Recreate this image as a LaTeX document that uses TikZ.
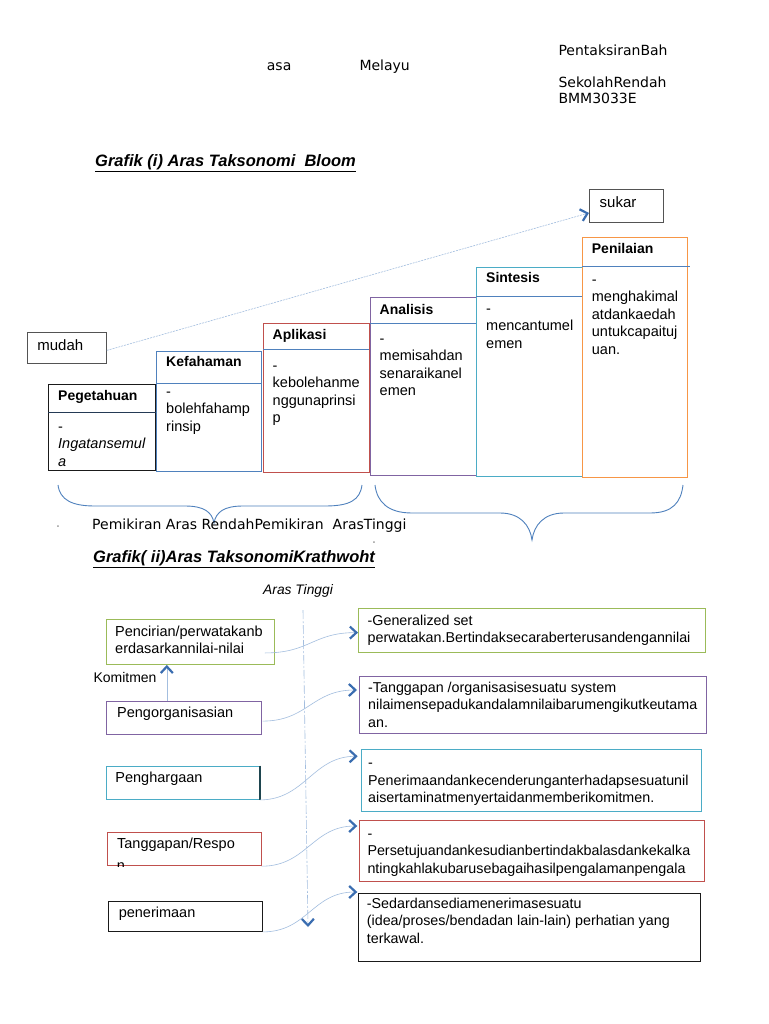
\documentclass[tikz,border=0pt]{standalone}
\usepackage{fontspec}
\setmainfont{Liberation Sans}
\newfontfamily\dvs{DejaVu Sans}
\usetikzlibrary{arrows.meta}
\definecolor{cblue}{HTML}{4F81BD}
\definecolor{cred}{HTML}{C0504D}
\definecolor{cpurple}{HTML}{8064A2}
\definecolor{cteal}{HTML}{4BACC6}
\definecolor{corange}{HTML}{F79646}
\definecolor{colive}{HTML}{9BBB59}
\definecolor{clight}{HTML}{A3BEDF}
\definecolor{ctip}{HTML}{3A6DB0}
\definecolor{cdark}{HTML}{1A1A1A}
\newcommand\fntBody{\fontsize{14.5}{17.5}\selectfont}
\newcommand\fntRight{\fontsize{14.3}{17.5}\selectfont}
\newcommand\fntHead{\dvs\fontsize{14}{17}\selectfont}
\begin{document}
\begin{tikzpicture}[x=1pt,y=-1pt,
  every node/.style={inner sep=0pt},
  bx/.style={draw, line width=0.9pt, anchor=north west, inner sep=0pt},
  divline/.style={draw=cblue, line width=0.9pt},
  ttl/.style={anchor=base west, font=\fontsize{14}{17}\selectfont\bfseries},
  bodytxt/.style={anchor=north west, align=left, font=\fntBody},
  righttxt/.style={anchor=north west, align=left, font=\fntRight},
  headtxt/.style={anchor=base west, font=\fntHead},
  gtitle/.style={anchor=base west, font=\fontsize{16.5}{20}\selectfont\bfseries\itshape},
  conn/.style={draw=clight, line width=0.6pt, -{Straight Barb[length=6.5pt,width=12pt,line width=2.2pt,color=ctip]}},
  brace/.style={draw=cblue, line width=0.9pt},
]
\fill[white] (0,0) rectangle (768,1024);
\useasboundingbox (0,0) rectangle (768,1024);

% header
\node[headtxt] (h1) at (266.7,70.7) {asa};
\node[headtxt] (h2) at (359.3,70.7) {Melayu};
\node[headtxt] (h3) at (558.3,56) {PentaksiranBah};
\node[headtxt] (h4) at (558.3,87.5) {SekolahRendah};
\node[headtxt] (h5) at (558.3,104) {BMM3033E};

% title 1
\node[gtitle] (t1) at (95,166.7) {\underline{Grafik (i) Aras Taksonomi\ \ Bloom}};

% sukar / mudah
\node[bx, draw=cdark!75, line width=0.8pt, inner xsep=10.3pt, text width=53.4pt, text height=17.7pt, text depth=15.3pt, align=left, font=\fontsize{15}{18}\selectfont] (sukar) at (589,189) {sukar};
\node[bx, draw=cdark!75, line width=0.8pt, inner xsep=10pt, text width=59pt, text height=18pt, text depth=13pt, align=left, font=\fontsize{15}{18}\selectfont] (mudah) at (27,332) {mudah};
\draw[conn, dash pattern=on 2pt off 1pt] ([yshift=-2.5pt]mudah.east) -- ([yshift=-7pt]sukar.west);

% Bloom boxes
\node[bx, draw=cdark, minimum width=107pt, minimum height=86pt] (peg) at (48,384) {};
\draw[draw=cblue!45!black, line width=0.9pt] ([yshift=-28pt]peg.north west) -- ([yshift=-28pt]peg.north east);
\node[ttl] (pegT) at (58,400.7) {Pegetahuan};
\node[bodytxt] (pegB) at (58,418.75) {\strut-\\\textit{Ingatansemul}\\\textit{a}};

\node[bx, draw=cblue, minimum width=105pt, minimum height=120.5pt] (kef) at (156,350.7) {};
\draw[divline] ([yshift=-32.6pt]kef.north west) -- ([yshift=-32.6pt]kef.north east);
\node[ttl] (kefT) at (166,366.7) {Kefahaman};
\node[bodytxt] (kefB) at (166,383.75) {\strut-\\bolehfahamp\\rinsip};

\node[bx, draw=cred, minimum width=105.5pt, minimum height=149pt] (apl) at (263,323.3) {};
\draw[divline] ([yshift=-26pt]apl.north west) -- ([yshift=-26pt]apl.north east);
\node[ttl] (aplT) at (272.5,339.3) {Aplikasi};
\node[bodytxt] (aplB) at (272.5,357.75) {\strut-\\kebolehanme\\nggunaprinsi\\p};

\node[bx, draw=cpurple, minimum width=106pt, minimum height=177.7pt] (ana) at (370,297.3) {};
\draw[divline] ([yshift=-26pt]ana.north west) -- ([yshift=-26pt]ana.north east);
\node[ttl] (anaT) at (379.5,314) {Analisis};
\node[bodytxt] (anaB) at (379.5,330.75) {\strut-\\memisahdan\\senaraikanel\\emen};

\node[bx, draw=cteal, minimum width=105.5pt, minimum height=208.4pt] (sin) at (476,267.3) {};
\draw[divline] ([yshift=-29.4pt]sin.north west) -- ([yshift=-29.4pt]sin.north east);
\node[ttl] (sinT) at (486,282.7) {Sintesis};
\node[bodytxt] (sinB) at (486,300.75) {\strut-\\mencantumel\\emen};

\node[bx, draw=corange, minimum width=105pt, minimum height=239.4pt] (pen) at (582.3,237.3) {};
\draw[divline] ([yshift=-28.7pt]pen.north west) -- ([xshift=2pt,yshift=-28.7pt]pen.north east);
\node[ttl] (penT) at (591.7,253.3) {Penilaian};
\node[bodytxt] (penB) at (591.7,271.75) {\strut-\\menghakimal\\atdankaedah\\untukcapaituj\\uan.};

% braces
\draw[brace] (58,485) .. controls (60,500) and (72,506) .. (95,506) -- (185,506)
  .. controls (204,506) and (212,512) .. (214,523)
  .. controls (216,512) and (224,506) .. (243,506) -- (325,506)
  .. controls (350,506) and (360,500) .. (362,485);
\draw[brace] (375,485) .. controls (377,502) and (388,513) .. (412,513) -- (500,513)
  .. controls (520,513) and (530,525) .. (532,540)
  .. controls (534,525) and (544,513) .. (564,513) -- (650,513)
  .. controls (673,513) and (681,502) .. (683,485);
\node[anchor=base, font=\fntHead, text=black!40] (dot1) at (58,527) {.};
\node[anchor=base, font=\fntHead, text=black!40] (dot2) at (374,543) {.};
\node[headtxt] (pemik) at (92,529) {Pemikiran Aras RendahPemikiran\ \ ArasTinggi};

% title 2
\node[gtitle] (t2) at (93,562) {\underline{Grafik( ii)Aras TaksonomiKrathwoht}};
\node[anchor=base west, font=\fontsize{13.8}{17}\selectfont\itshape] (aras) at (263,594) {Aras Tinggi};

% Krathwohl left boxes
\node[bx, draw=colive, minimum width=168pt, minimum height=45pt] (pc) at (106,619) {};
\node[anchor=north west, align=left, font=\fontsize{14.5}{16.5}\selectfont] (pcT) at (115,624.95) {\strut Pencirian/perwatakanb\\erdasarkannilai-nilai};
\node[anchor=base west, font=\fontsize{14}{17}\selectfont] (komit) at (93.3,682.7) {Komitmen};
\node[bx, draw=cpurple, inner xsep=10.7pt, text width=133.3pt, text height=16pt, text depth=17.3pt, align=left, font=\fntBody] (po) at (106,700.7) {Pengorganisasian};
\node[bx, draw=cteal, inner xsep=9pt, text width=135pt, text height=16pt, text depth=17.3pt, align=left, font=\fntBody] (ph) at (106,765.7) {Penghargaan};
\draw[draw=cteal!40!black, line width=1.4pt] (ph.north east) -- (ph.south east);
\node[bx, draw=cred, inner xsep=9.4pt, text width=134.6pt, text height=16.3pt, text depth=17pt, align=left, font=\fntBody] (tr) at (107.3,832) {Tanggapan/Respo};
\begin{scope}
\clip (tr.north west) rectangle (tr.south east);
\node[anchor=base west, font=\fntBody] (trN) at (116.7,870) {n};
\end{scope}
\node[bx, draw=cdark, inner xsep=10pt, text width=133.4pt, text height=16pt, text depth=14.3pt, align=left, font=\fntBody] (pn) at (108.3,900.7) {penerimaan};

\draw[conn] ([xshift=-17pt]po.north) -- ([xshift=-17pt]po.north |- pc.south);

% vertical line
\coordinate (vt) at (303,610);
\coordinate (vb) at (308,927);
\draw[conn, dash pattern=on 9pt off 2pt on 2pt off 2pt] (vt) -- (vb);

% Krathwohl right boxes
\node[bx, draw=colive, minimum width=347pt, minimum height=43.7pt] (r1) at (358,608.3) {};
\node[righttxt] (r1T) at (367.5,612.6) {\strut-Generalized set\\perwatakan.Bertindaksecaraberterusandengannilai};
\node[bx, draw=cpurple, minimum width=347pt, minimum height=57.3pt] (r2) at (359,676) {};
\node[righttxt] (r2T) at (368,679.75) {\strut-Tanggapan /organisasisesuatu system\\nilaimensepadukandalamnilaibarumengikutkeutama\\an.};
\node[bx, draw=cteal, minimum width=340pt, minimum height=61.3pt] (r3) at (360.7,749.3) {};
\node[righttxt] (r3T) at (368,755.25) {\strut-\\Penerimaandankecenderunganterhadapsesuatunil\\aisertaminatmenyertaidanmemberikomitmen.};
\node[bx, draw=cred, minimum width=345pt, minimum height=60.7pt] (r4) at (359.3,820) {};
\node[righttxt] (r4T) at (367.3,825.75) {\strut-\\Persetujuandankesudianbertindakbalasdankekalka\\ntingkahlakubarusebagaihasilpengalamanpengala};
\node[bx, draw=cdark, minimum width=341.7pt, minimum height=68pt] (r5) at (358.3,893) {};
\node[righttxt] (r5T) at (366.7,895.75) {\strut-Sedardansediamenerimasesuatu\\(idea/proses/bendadan lain-lain) perhatian yang\\terkawal.};

% connectors
\draw[conn] ([xshift=-10pt,yshift=-11pt]pc.east) .. controls +(45,0) and +(-45,0) .. ([yshift=-2pt]r1.west);
\draw[conn] ([xshift=1pt,yshift=-3.3pt]po.east) .. controls +(45,0) and +(-45,0) .. ([xshift=-2pt,yshift=-14pt]r2.north west);
\draw[conn] (ph.south east) .. controls +(45,0) and +(-45,0) .. ([xshift=-3pt,yshift=-7pt]r3.north west);
\draw[conn] (tr.south east) .. controls +(45,0) and +(-45,0) .. ([xshift=-2pt,yshift=-6pt]r4.north west);
\draw[conn] (pn.south east) .. controls +(45,0) and +(-45,0) .. ([xshift=-1pt,yshift=1pt]r5.north west);
\end{tikzpicture}
\end{document}
